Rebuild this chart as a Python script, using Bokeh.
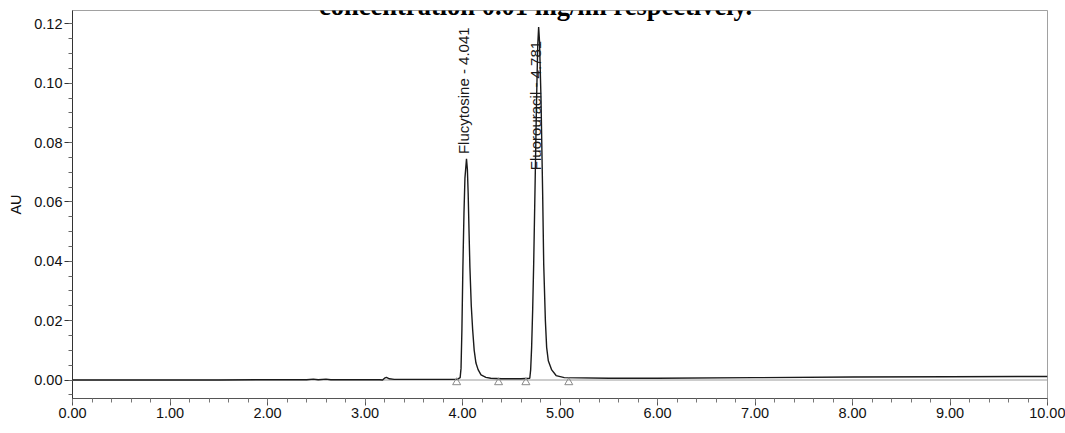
import math
from bokeh.plotting import figure
from bokeh.models import Range1d, Label, SingleIntervalTicker, NumeralTickFormatter
from bokeh.core.properties import value
from bokeh.embed import file_html
from bokeh.resources import INLINE

# ---- data ----
time_min = [0.00, 0.50, 1.00, 1.50, 2.00, 2.40, 2.47, 2.52, 2.60, 2.65, 3.00, 3.15,
            3.18, 3.20, 3.22, 3.25, 3.30, 3.60, 3.90, 3.95, 3.976, 3.985, 3.994,
            4.004, 4.015, 4.025, 4.041, 4.050, 4.058, 4.067, 4.076, 4.090, 4.104,
            4.120, 4.138, 4.160, 4.190, 4.240, 4.290, 4.400, 4.600, 4.690, 4.699,
            4.709, 4.720, 4.730, 4.743, 4.760, 4.772, 4.781, 4.790, 4.805, 4.822,
            4.833, 4.850, 4.863, 4.880, 4.915, 4.960, 5.044, 5.500, 6.000, 7.000,
            8.000, 9.000, 10.00]
au = [0.0000, 0.0000, 0.0000, 0.0000, 0.0001, 0.0001, 0.0003, 0.0001, 0.0003, 0.0001,
      0.0001, 0.0001, 0.0000, 0.0006, 0.0009, 0.0004, 0.0002, 0.0002, 0.0002, 0.0003,
      0.0008, 0.0040, 0.0170, 0.0380, 0.0560, 0.0680, 0.0745, 0.0710, 0.0630, 0.0500,
      0.0380, 0.0250, 0.0170, 0.0100, 0.0057, 0.0035, 0.0017, 0.0009, 0.0006, 0.0004,
      0.0004, 0.0006, 0.0034, 0.0110, 0.0240, 0.0390, 0.0630, 0.0950, 0.1130, 0.1189,
      0.1140, 0.0950, 0.0630, 0.0390, 0.0200, 0.0110, 0.0065, 0.0034, 0.0015, 0.0008,
      0.0006, 0.0006, 0.0008, 0.0010, 0.0011, 0.0012]

peak_names = ["Flucytosine", "Fluorouracil"]
peak_times = [4.041, 4.781]
boundary_times = [3.94, 4.37, 4.65, 5.09]

title_text = "concentration 0.01 mg/ml respectively."
x_title = "Minutes"
y_title = "AU"

# ---- figure ----
p = figure(width=1065, height=433, output_backend="svg", toolbar_location=None,
           x_range=Range1d(0, 10), y_range=Range1d(-0.00623, 0.12448),
           min_border_left=72, min_border_right=18, min_border_top=10,
           min_border_bottom=35)
p.background_fill_color = "white"
p.border_fill_color = "white"
p.xgrid.visible = False
p.ygrid.visible = False
p.outline_line_color = "#8a8a8a"
p.outline_line_alpha = 0.8

FONT = "Liberation Sans"

p.xaxis.ticker = SingleIntervalTicker(interval=1, num_minor_ticks=5)
p.yaxis.ticker = SingleIntervalTicker(interval=0.02, num_minor_ticks=4)
p.xaxis.formatter = NumeralTickFormatter(format="0.00")
p.yaxis.formatter = NumeralTickFormatter(format="0.00")
for ax in (p.xaxis[0], p.yaxis[0]):
    ax.major_label_text_font = FONT
    ax.major_label_text_font_size = "14.5px"
    ax.major_label_text_color = "#111111"
    ax.major_tick_in = 0
    ax.minor_tick_in = 0
    ax.major_label_standoff = 2
p.xaxis.major_tick_out = 7
p.xaxis.minor_tick_out = 4
p.xaxis.axis_line_color = "#555555"
p.xaxis.major_tick_line_color = "#555555"
p.xaxis.minor_tick_line_color = "#777777"
p.yaxis.major_tick_out = 8
p.yaxis.minor_tick_out = 4
p.yaxis.axis_line_color = "#333333"
p.yaxis.major_tick_line_color = "#333333"
p.yaxis.minor_tick_line_color = "#666666"

p.yaxis.axis_label = y_title
p.yaxis.axis_label_text_font = FONT
p.yaxis.axis_label_text_font_size = "14.5px"
p.yaxis.axis_label_text_font_style = "normal"
p.yaxis.axis_label_text_color = "#111111"
p.yaxis.axis_label_standoff = 7

# integration baseline and trace
p.line([0, 10], [0, 0], line_color="#9a9a9a", line_width=1)
p.line(time_min, au, line_color="#1a1a1a", line_width=1.4)

# peak start/end markers
p.scatter(boundary_times, [-0.0008] * len(boundary_times), marker="triangle",
          size=8, fill_color=None, line_color="#8a8a8a", line_width=1)

# peak labels
label_texts = [f"{n} - {t:.3f}" for n, t in zip(peak_names, peak_times)]
label_x = [t - 0.032 for t in peak_times]
label_y = [0.0761, 0.0707]
p.text(label_x, label_y, text=label_texts, angle=math.pi / 2,
       text_align="left", text_baseline="middle", text_font=value(FONT),
       text_font_size="15px", text_color="#1a1a1a")

# caption line at top (continuation of the figure caption)
p.add_layout(Label(x=4.749, y=0.12600, text=title_text, text_align="center",
                   text_baseline="alphabetic", text_font="Liberation Serif",
                   text_font_style="bold", text_font_size="26.5px",
                   text_color="black"))
# x-axis title, cut by the bottom edge as in the reference
p.add_layout(Label(x=5.0, y=-0.01400, text=x_title, text_align="center",
                   text_baseline="top", text_font=FONT, text_font_size="14.5px",
                   text_color="#1a1a1a"))

open("out.html", "w").write(file_html(p, INLINE))
